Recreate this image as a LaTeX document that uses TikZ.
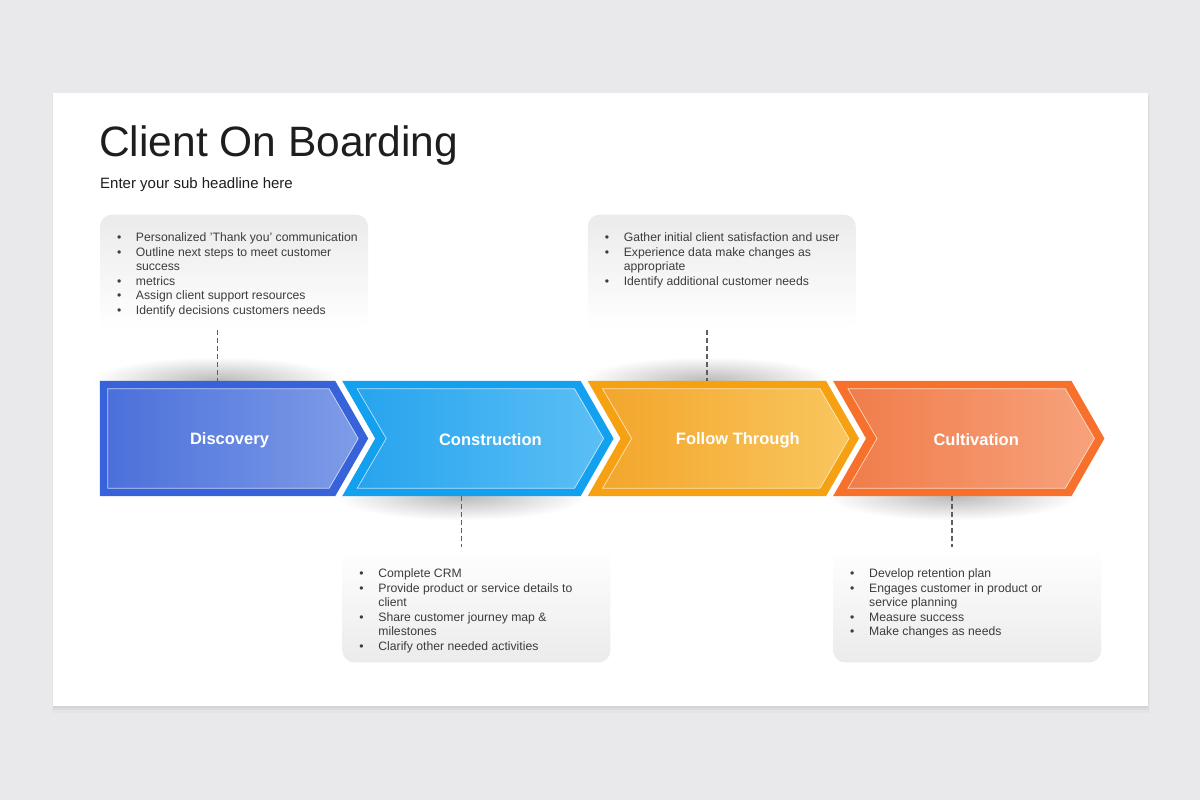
\documentclass[tikz,border=0pt]{standalone}
\usepackage{fontspec}
\setmainfont{Liberation Sans}
\usepackage{tikz}
\usetikzlibrary{positioning,fadings}
\tikzset{stepnode/.style={rectangle,minimum width=238pt,minimum height=115pt,inner sep=0pt}}
\tikzfading[name=softshade, inner color=transparent!10, outer color=transparent!100]

\definecolor{bggray}{HTML}{E9E8EA}
\definecolor{titlegray}{HTML}{1E1E1E}
\definecolor{bodytext}{HTML}{3C3C3C}
\definecolor{boxgray}{HTML}{EBEBEB}
\definecolor{linegray}{HTML}{5E5E5E}
\definecolor{blueedge}{HTML}{3762D9}
\definecolor{blueA}{HTML}{4C70DB}
\definecolor{blueB}{HTML}{7E9CE7}
\definecolor{cyanedge}{HTML}{12A0EF}
\definecolor{cyanA}{HTML}{27A4EE}
\definecolor{cyanB}{HTML}{5BBFF5}
\definecolor{amberedge}{HTML}{F6A111}
\definecolor{amberA}{HTML}{F3A62C}
\definecolor{amberB}{HTML}{F9C65E}
\definecolor{coraledge}{HTML}{F7712D}
\definecolor{coralA}{HTML}{F07D4B}
\definecolor{coralB}{HTML}{F7A27C}

\begin{document}
\begin{tikzpicture}[x=1pt,y=-1pt,node distance=7pt]
  \tikzstyle{box}=[rectangle,rounded corners=12pt,minimum width=268pt,minimum height=115pt,inner sep=0pt]
  \tikzstyle{toptone}=[top color=boxgray,bottom color=white]
  \tikzstyle{bottone}=[top color=white,bottom color=boxgray]
  \tikzstyle{link}=[draw=linegray,line width=1.8pt,dash pattern=on 5pt off 3pt]
  \tikzstyle{steptext}=[text=white,font=\fontsize{16.5}{18}\bfseries\selectfont]
  \tikzstyle{list}=[anchor=north west,inner sep=0pt,text=bodytext,font=\fontsize{12.2}{14.5}\selectfont]
  \tikzstyle{dropshade}=[fill=black,fill opacity=.3,path fading=softshade]
  \tikzstyle{rim}=[draw=white,draw opacity=.7,line width=.7pt]

  \useasboundingbox (0,0) rectangle (1200,800);
  \fill[bggray] (0,0) rectangle (1200,800);
  % slide and its soft shadow
  \fill[black,opacity=.02] (52,95) rectangle (1150,713);
  \fill[black,opacity=.03] (53,95) rectangle (1149,710);
  \fill[black,opacity=.04] (53,95) rectangle (1148,708);
  \fill[white] (53,93) rectangle (1148,706);

  \node[anchor=base west,text=titlegray,font=\fontsize{42.5}{50}\selectfont,inner sep=0pt] (title) at (99,156) {Client On Boarding};
  \node[anchor=base west,text=titlegray,font=\fontsize{15}{18}\selectfont,inner sep=0pt] (sub) at (100,188) {Enter your sub headline here};

  % steps
  \node[stepnode,minimum width=235pt] (s1) at (217.5,438.5) {};
  \node[stepnode] (s2) [right=of s1] {};
  \node[stepnode] (s3) [right=of s2] {};
  \node[stepnode] (s4) [right=of s3] {};

  % boxes
  \node[box,toptone,above=51pt of s1.north west,anchor=south west] (b1) {};
  \node[box,bottone,below=51pt of s2.south west,anchor=north west] (b2) {};
  \node[box,toptone,above=51pt of s3.north west,anchor=south west] (b3) {};
  \node[box,bottone,below=51pt of s4.south west,anchor=north west] (b4) {};

  % shadows
  \path[dropshade] (s1.north) ellipse [x radius=125pt, y radius=24pt];
  \path[dropshade] (s2.south) ellipse [x radius=125pt, y radius=24pt];
  \path[dropshade] (s3.north) ellipse [x radius=125pt, y radius=24pt];
  \path[dropshade] (s4.south) ellipse [x radius=125pt, y radius=24pt];

  % chevrons
  \fill[blueedge] (s1.north west) -- (s1.north east) -- ([xshift=33pt]s1.east) -- (s1.south east) -- (s1.south west) -- cycle;
  \path[rim,left color=blueA,right color=blueB] ([xshift=8pt,yshift=-8pt]s1.north west) -- ([xshift=-6pt,yshift=-8pt]s1.north east) -- ([xshift=23pt]s1.east) -- ([xshift=-6pt,yshift=8pt]s1.south east) -- ([xshift=8pt,yshift=8pt]s1.south west) -- cycle;

  \fill[cyanedge] (s2.north west) -- (s2.north east) -- ([xshift=33pt]s2.east) -- (s2.south east) -- (s2.south west) -- ([xshift=33pt]s2.west) -- cycle;
  \path[rim,left color=cyanA,right color=cyanB] ([xshift=15pt,yshift=-8pt]s2.north west) -- ([xshift=-6pt,yshift=-8pt]s2.north east) -- ([xshift=23pt]s2.east) -- ([xshift=-6pt,yshift=8pt]s2.south east) -- ([xshift=15pt,yshift=8pt]s2.south west) -- ([xshift=44pt]s2.west) -- cycle;

  \fill[amberedge] (s3.north west) -- (s3.north east) -- ([xshift=33pt]s3.east) -- (s3.south east) -- (s3.south west) -- ([xshift=33pt]s3.west) -- cycle;
  \path[rim,left color=amberA,right color=amberB] ([xshift=15pt,yshift=-8pt]s3.north west) -- ([xshift=-6pt,yshift=-8pt]s3.north east) -- ([xshift=23pt]s3.east) -- ([xshift=-6pt,yshift=8pt]s3.south east) -- ([xshift=15pt,yshift=8pt]s3.south west) -- ([xshift=44pt]s3.west) -- cycle;

  \fill[coraledge] (s4.north west) -- (s4.north east) -- ([xshift=33pt]s4.east) -- (s4.south east) -- (s4.south west) -- ([xshift=33pt]s4.west) -- cycle;
  \path[rim,left color=coralA,right color=coralB] ([xshift=15pt,yshift=-8pt]s4.north west) -- ([xshift=-6pt,yshift=-8pt]s4.north east) -- ([xshift=23pt]s4.east) -- ([xshift=-6pt,yshift=8pt]s4.south east) -- ([xshift=15pt,yshift=8pt]s4.south west) -- ([xshift=44pt]s4.west) -- cycle;

  \node[steptext] (l1) at ([xshift=12pt,yshift=-2pt]s1.center) {Discovery};
  \node[steptext] (l2) at ([xshift=29pt,yshift=-1pt]s2.center) {Construction};
  \node[steptext] (l3) at ([xshift=31pt,yshift=-2pt]s3.center) {Follow Through};
  \node[steptext] (l4) at ([xshift=24pt,yshift=-1pt]s4.center) {Cultivation};

  % dashed links
  \draw[link] (b1.south -| s1.north) -- (s1.north);
  \draw[link] (s2.south) -- (b2.north -| s2.south);
  \draw[link] (b3.south -| s3.north) -- (s3.north);
  \draw[link] (s4.south) -- (b4.north -| s4.south);

  % lists
  \node[list] (t1) at ([xshift=17pt,yshift=-17pt]b1.north west) {\begin{tabular}{@{}p{19pt}@{}l@{}}
    \textbullet & Personalized 'Thank you' communication\\
    \textbullet & Outline next steps to meet customer\\
                & success\\
    \textbullet & metrics\\
    \textbullet & Assign client support resources\\
    \textbullet & Identify decisions customers needs
  \end{tabular}};
  \node[list] (t2) at ([xshift=17pt,yshift=-20pt]b2.north west) {\begin{tabular}{@{}p{19pt}@{}l@{}}
    \textbullet & Complete CRM\\
    \textbullet & Provide product or service details to\\
                & client\\
    \textbullet & Share customer journey map \&\\
                & milestones\\
    \textbullet & Clarify other needed activities
  \end{tabular}};
  \node[list] (t3) at ([xshift=17pt,yshift=-17pt]b3.north west) {\begin{tabular}{@{}p{19pt}@{}l@{}}
    \textbullet & Gather initial client satisfaction and user\\
    \textbullet & Experience data make changes as\\
                & appropriate\\
    \textbullet & Identify additional customer needs
  \end{tabular}};
  \node[list] (t4) at ([xshift=17pt,yshift=-20pt]b4.north west) {\begin{tabular}{@{}p{19pt}@{}l@{}}
    \textbullet & Develop retention plan\\
    \textbullet & Engages customer in product or\\
                & service planning\\
    \textbullet & Measure success\\
    \textbullet & Make changes as needs
  \end{tabular}};

\end{tikzpicture}
\end{document}
